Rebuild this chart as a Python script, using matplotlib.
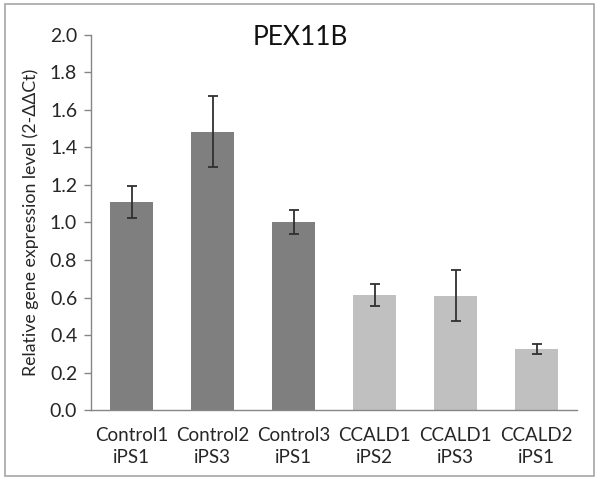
import matplotlib.pyplot as plt
from matplotlib.patches import Rectangle

plt.rcParams['font.family'] = ['Lato', 'DejaVu Sans']

labels = ['Control1\niPS1', 'Control2\niPS3', 'Control3\niPS1',
          'CCALD1\niPS2', 'CCALD1\niPS3', 'CCALD2\niPS1']
values = [1.11, 1.485, 1.0, 0.613, 0.61, 0.325]
errors = [0.087, 0.19, 0.064, 0.06, 0.135, 0.028]
colors = ['#7f7f7f', '#7f7f7f', '#7f7f7f', '#c0c0c0', '#c0c0c0', '#c0c0c0']

fig = plt.figure(figsize=(6, 4.79), dpi=100)
ax = fig.add_axes([0.1517, 0.144, 0.81, 0.783])

x = range(len(labels))
ax.bar(x, values, width=0.54, color=colors, zorder=2)
ax.errorbar(x, values, yerr=errors, fmt='none', ecolor='#303030',
            elinewidth=1.3, capsize=3.5, capthick=1.3, zorder=3)

ax.set_xlim(-0.5, len(labels) - 0.5)
ax.set_ylim(0, 2.0)
ax.set_yticks([i * 0.2 for i in range(11)])
ax.set_yticklabels([f'{i * 0.2:.1f}' for i in range(11)], fontsize=14, color='#262626')
ax.set_xticks(list(x))
ax.set_xticklabels(labels, fontsize=13.5, color='#262626', linespacing=1.35)
ax.tick_params(axis='x', length=0, pad=12)
ax.tick_params(axis='y', length=5, width=1, color='#868686', pad=5)

for side in ['top', 'right']:
    ax.spines[side].set_visible(False)
for side in ['left', 'bottom']:
    ax.spines[side].set_color('#868686')
    ax.spines[side].set_linewidth(1)

ax.set_ylabel('Relative gene expression level (2-ΔΔCt)', fontsize=12.8, color='#262626', labelpad=8)
fig.text(0.5, 0.948, 'PEX11B', ha='center', va='top', fontsize=19, color='#111111')

fig.patches.append(Rectangle((5 / 600, 3 / 479), 589 / 600, 472 / 479,
                             transform=fig.transFigure, fill=False,
                             edgecolor='#a6a6a6', linewidth=1.2))

fig.savefig('out.png', dpi=100)
